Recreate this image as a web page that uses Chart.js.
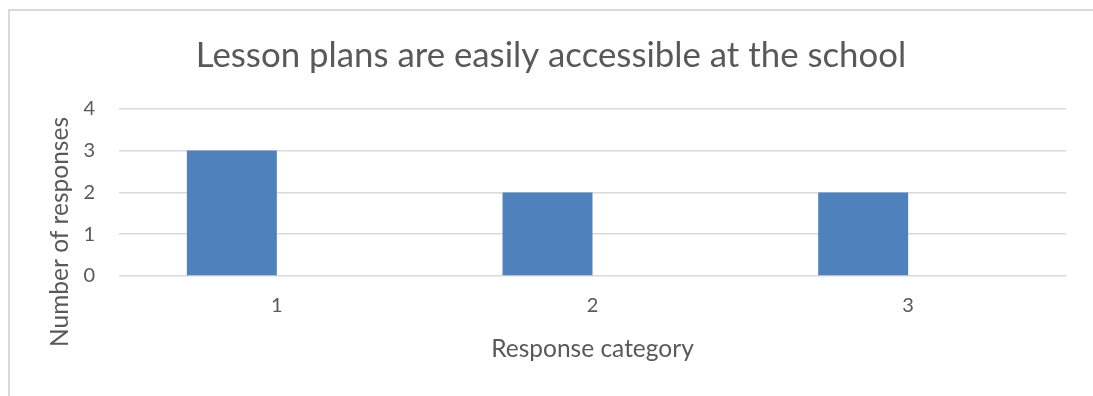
<!DOCTYPE html>
<html>
<head>
<meta charset="utf-8">
<script src="https://cdn.jsdelivr.net/npm/chart.js@4/dist/chart.umd.min.js"></script>
<style>
  html, body { margin: 0; padding: 0; background: #fff; overflow: hidden; }
  #frame {
    position: absolute; left: 8px; top: 9px; width: 1200px; height: 500px;
    border-left: 2px solid #d9d9d9; border-top: 2px solid #d9d9d9;
  }
  #chart { position: absolute; left: 0; top: 0; }
</style>
</head>
<body>
<div id="frame"></div>
<canvas id="chart" width="1093" height="396"></canvas>
<script>
// chart data
var categories = ['1', '2', '3'];
var series1 = [3, 2, 2];
var series2 = [null, null, null]; // empty second series, keeps bars to the left of each label
var yTicks = [0, 1, 2, 3, 4];

var titleText = 'Lesson plans are easily accessible at the school';
var xTitleText = 'Response category';
var yTitleText = 'Number of responses';

var textColor = '#595959';
var gridColor = '#d9d9d9';
var fontFamily = 'Lato, "Open Sans", sans-serif';

// y-axis title is centred on the whole chart height, not the plot area
var yTitlePlugin = {
  id: 'yTitle',
  afterDraw(chart) {
    var ctx = chart.ctx;
    ctx.save();
    ctx.translate(60, 232);
    ctx.rotate(-Math.PI / 2);
    ctx.fillStyle = textColor;
    ctx.font = '24.5px ' + fontFamily;
    ctx.textAlign = 'center';
    ctx.textBaseline = 'middle';
    ctx.fillText(yTitleText, 0, 0);
    ctx.restore();
  }
};

new Chart(document.getElementById('chart').getContext('2d'), {
  type: 'bar',
  data: {
    labels: categories,
    datasets: [
      { label: 'Series1', data: series1, backgroundColor: '#4f81bd', borderWidth: 0 },
      { label: 'Series2', data: series2, backgroundColor: '#c0504d', borderWidth: 0 }
    ]
  },
  options: {
    responsive: false,
    animation: false,
    categoryPercentage: 0.57,
    barPercentage: 1,
    layout: { padding: { left: 36, right: 27, top: 0, bottom: 0 } },
    plugins: {
      legend: { display: false },
      tooltip: { enabled: false },
      title: {
        display: true,
        text: titleText,
        color: textColor,
        font: { family: fontFamily, size: 34.8, weight: 'normal', lineHeight: 1.2 },
        padding: { top: 35, bottom: 32 }
      }
    },
    scales: {
      x: {
        grid: { display: false, drawTicks: false },
        border: { display: false },
        ticks: {
          color: textColor,
          padding: 18,
          font: { family: fontFamily, size: 20 }
        },
        title: {
          display: true,
          text: xTitleText,
          color: textColor,
          font: { family: fontFamily, size: 24.5 },
          padding: { top: 0, bottom: 32 }
        },
        afterFit(scale) { scale.height = 120; }
      },
      y: {
        min: yTicks[0],
        max: yTicks[yTicks.length - 1],
        border: { display: false },
        grid: { color: gridColor, lineWidth: 1.5, drawTicks: false },
        ticks: {
          stepSize: 1,
          color: textColor,
          padding: 24,
          font: { family: fontFamily, size: 20 }
        },
        afterFit(scale) { scale.width = 83; }
      }
    }
  },
  plugins: [yTitlePlugin]
});
</script>
</body>
</html>
